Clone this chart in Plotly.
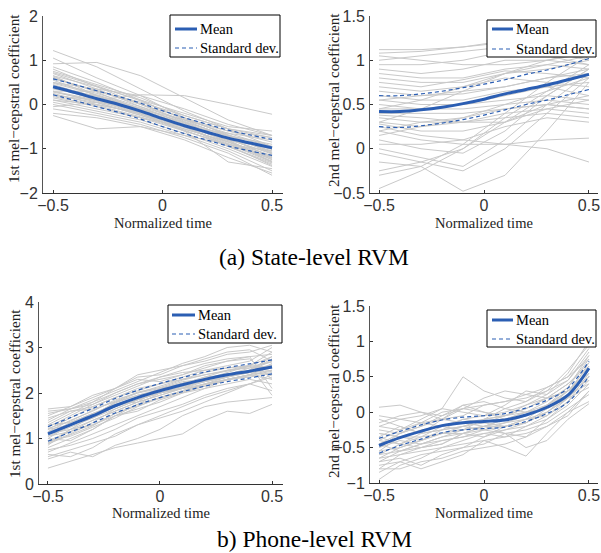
import plotly.graph_objects as go

# ---------------- data ----------------
t11 = [-0.5, -0.4, -0.3, -0.2, -0.1, 0.0, 0.1, 0.2, 0.3, 0.4, 0.5]
t6 = [-0.5, -0.3, -0.1, 0.1, 0.3, 0.5]

# Panel (a) left: 1st mel-cepstral, state level
a1_mean = [0.40, 0.27, 0.13, 0.0, -0.15, -0.32, -0.48, -0.62, -0.76, -0.87, -0.98]
a1_up = [0.58, 0.45, 0.31, 0.18, 0.03, -0.14, -0.30, -0.44, -0.58, -0.69, -0.79]
a1_lo = [0.22, 0.09, -0.05, -0.18, -0.33, -0.50, -0.66, -0.80, -0.94, -1.05, -1.15]
a1_lines = [
    [1.22, 0.85, 0.35, -0.15, -0.55, -0.95],
    [0.92, 0.95, 0.65, 0.15, -0.35, -0.70],
    [0.30, 0.10, 0.22, 0.20, 0.00, -0.22],
    [1.05, 0.60, 0.20, -0.30, -0.70, -1.10],
    [0.85, 0.50, 0.10, -0.35, -0.75, -1.20],
    [0.80, 0.40, 0.00, -0.40, -0.80, -1.30],
    [0.70, 0.35, -0.05, -0.45, -0.85, -1.25],
    [0.60, 0.30, 0.00, -0.30, -0.60, -0.85],
    [0.55, 0.20, -0.10, -0.50, -0.95, -1.35],
    [0.50, 0.25, -0.05, -0.35, -0.65, -0.95],
    [0.45, 0.15, -0.15, -0.45, -0.75, -1.05],
    [0.40, 0.10, -0.20, -0.50, -0.80, -1.10],
    [0.35, 0.20, -0.10, -0.40, -0.70, -0.90],
    [0.30, 0.05, -0.25, -0.55, -0.85, -1.15],
    [0.25, 0.00, -0.20, -0.50, -0.80, -1.00],
    [0.20, 0.10, -0.15, -0.45, -0.70, -0.95],
    [0.15, -0.05, -0.30, -0.60, -0.90, -1.20],
    [0.10, -0.10, -0.30, -0.50, -0.65, -0.80],
    [0.05, -0.15, -0.35, -0.65, -1.00, -1.40],
    [0.00, -0.20, -0.40, -0.70, -1.05, -1.50],
    [-0.10, -0.25, -0.45, -0.75, -1.10, -1.60],
    [-0.20, -0.30, -0.50, -0.80, -1.20, -1.55],
    [-0.25, -0.55, -0.50, -0.70, -0.90, -1.05],
    [0.75, 0.45, 0.15, -0.25, -0.55, -0.70],
    [0.65, 0.40, 0.10, -0.20, -0.50, -0.60],
    [0.30, 0.30, 0.05, -0.25, -0.55, -0.75],
    [-0.05, 0.05, -0.10, -0.35, -0.60, -0.75],
    [0.50, 0.35, 0.20, -0.10, -0.45, -0.70],
    [0.10, 0.00, -0.20, -0.60, -1.30, -1.45],
    [0.65, 0.20, -0.20, -0.60, -0.90, -1.30],
    [0.58, 0.32, 0.02, -0.38, -0.72, -1.02],
    [0.48, 0.22, -0.08, -0.42, -0.78, -1.12],
    [0.38, 0.12, -0.18, -0.48, -0.82, -1.22],
    [0.28, 0.08, -0.22, -0.52, -0.88, -1.28],
    [0.62, 0.28, -0.12, -0.48, -0.92, -1.38],
    [0.18, -0.02, -0.28, -0.58, -0.95, -1.32],
    [0.72, 0.42, 0.08, -0.32, -0.68, -1.08],
    [0.42, 0.18, -0.12, -0.44, -0.76, -1.18],
    [0.22, 0.04, -0.24, -0.56, -0.84, -1.24],
]

# Panel (a) right: 2nd mel-cepstral, state level
a2_mean = [0.42, 0.42, 0.44, 0.47, 0.51, 0.56, 0.62, 0.67, 0.72, 0.78, 0.84]
a2_up = [0.60, 0.60, 0.62, 0.65, 0.69, 0.73, 0.78, 0.84, 0.89, 0.95, 1.02]
a2_lo = [0.25, 0.24, 0.26, 0.29, 0.33, 0.38, 0.44, 0.50, 0.55, 0.61, 0.67]
a2_lines = [
    [1.12, 1.12, 1.15, 1.20, 1.15, 1.05],
    [1.08, 1.10, 1.15, 1.22, 1.20, 1.10],
    [1.00, 1.05, 1.10, 1.15, 1.10, 1.00],
    [0.95, 0.95, 1.00, 1.10, 1.05, 0.95],
    [0.90, 0.85, 0.90, 1.00, 1.00, 0.95],
    [0.85, 0.80, 0.80, 0.90, 0.95, 0.90],
    [0.80, 0.75, 0.75, 0.85, 0.90, 1.00],
    [0.75, 0.70, 0.78, 0.88, 0.85, 0.80],
    [0.70, 0.65, 0.70, 0.80, 0.75, 0.70],
    [0.65, 0.60, 0.62, 0.70, 0.80, 0.85],
    [0.60, 0.55, 0.55, 0.65, 0.70, 0.60],
    [0.55, 0.50, 0.50, 0.55, 0.60, 0.55],
    [0.50, 0.45, 0.50, 0.60, 0.70, 0.75],
    [0.45, 0.45, 0.45, 0.50, 0.55, 0.50],
    [0.40, 0.40, 0.40, 0.45, 0.50, 0.45],
    [0.35, 0.30, 0.35, 0.50, 0.65, 0.80],
    [0.30, 0.25, 0.30, 0.40, 0.45, 0.40],
    [0.28, 0.20, 0.20, 0.30, 0.50, 0.60],
    [0.25, 0.15, 0.10, 0.05, 0.00, -0.15],
    [0.20, 0.10, 0.05, 0.05, 0.10, 0.12],
    [0.10, 0.00, -0.05, 0.20, 0.60, 0.90],
    [0.00, -0.10, -0.20, 0.10, 0.50, 0.85],
    [-0.05, -0.15, -0.25, 0.00, 0.40, 0.80],
    [-0.15, -0.20, -0.48, -0.30, 0.20, 0.75],
    [-0.25, -0.15, 0.00, 0.30, 0.60, 0.90],
    [-0.30, -0.20, 0.05, 0.40, 0.75, 1.05],
    [-0.45, -0.25, 0.00, 0.35, 0.65, 0.95],
    [0.45, 0.55, 0.70, 0.85, 0.95, 1.05],
    [0.30, 0.45, 0.65, 0.85, 1.00, 1.10],
    [0.55, 0.60, 0.65, 0.70, 0.80, 0.90],
    [0.15, 0.25, 0.35, 0.45, 0.50, 0.45],
    [0.20, 0.30, 0.30, 0.35, 0.40, 0.35],
    [0.38, 0.35, 0.30, 0.30, 0.45, 0.55],
    [0.05, 0.05, 0.10, 0.25, 0.35, 0.30],
    [1.05, 1.00, 0.95, 0.95, 1.00, 1.08],
]

# Panel (b) left: 1st mel-cepstral, phone level
b1_mean = [1.10, 1.30, 1.50, 1.72, 1.90, 2.05, 2.18, 2.30, 2.40, 2.48, 2.57]
b1_up = [1.26, 1.46, 1.66, 1.88, 2.06, 2.21, 2.34, 2.46, 2.56, 2.64, 2.73]
b1_lo = [0.94, 1.14, 1.34, 1.56, 1.74, 1.90, 2.03, 2.15, 2.25, 2.33, 2.42]
b1_lines = [
    [0.35, 0.50, 0.65, 0.80, 0.90, 1.00, 1.10, 1.40, 1.60, 1.55, 1.75],
    [0.55, 0.70, 0.60, 0.85, 1.00, 1.20, 1.50, 1.70, 1.80, 1.85, 1.90],
    [0.60, 0.75, 0.90, 1.05, 1.30, 1.45, 1.60, 1.80, 2.00, 2.20, 2.05],
    [0.70, 0.90, 1.10, 1.30, 1.50, 1.70, 1.90, 2.10, 2.20, 2.30, 2.20],
    [0.80, 1.00, 1.20, 1.50, 1.65, 1.80, 2.00, 2.10, 2.30, 2.40, 2.50],
    [0.85, 1.20, 1.40, 1.60, 1.80, 1.95, 2.10, 2.25, 2.35, 2.45, 2.60],
    [0.90, 1.10, 1.35, 1.65, 1.85, 2.00, 2.10, 2.20, 2.35, 2.50, 2.70],
    [0.95, 1.05, 1.25, 1.45, 1.70, 1.90, 2.05, 2.20, 2.30, 2.35, 2.45],
    [1.00, 1.30, 1.45, 1.70, 1.90, 2.05, 2.20, 2.35, 2.50, 2.55, 2.70],
    [1.05, 1.15, 1.40, 1.60, 1.80, 2.10, 2.25, 2.30, 2.45, 2.60, 2.80],
    [1.10, 1.35, 1.55, 1.75, 1.90, 2.00, 2.15, 2.30, 2.40, 2.55, 2.60],
    [1.15, 1.40, 1.60, 1.85, 2.00, 2.15, 2.30, 2.45, 2.55, 2.60, 2.90],
    [1.20, 1.45, 1.70, 1.90, 2.10, 2.20, 2.35, 2.50, 2.60, 2.70, 3.00],
    [1.25, 1.50, 1.75, 2.00, 2.20, 2.30, 2.40, 2.55, 2.70, 2.80, 2.85],
    [1.30, 1.55, 1.80, 2.10, 2.35, 2.40, 2.60, 2.75, 2.90, 2.95, 2.70],
    [1.35, 1.60, 1.70, 1.90, 2.05, 2.20, 2.30, 2.40, 2.50, 2.60, 2.55],
    [1.40, 1.65, 1.85, 2.05, 2.25, 2.45, 2.65, 2.80, 3.00, 3.05, 2.90],
    [1.45, 1.60, 1.65, 1.80, 2.00, 2.10, 2.20, 2.35, 2.40, 2.45, 2.40],
    [1.50, 1.70, 1.90, 2.10, 2.30, 2.25, 2.40, 2.60, 2.70, 2.75, 2.30],
    [1.55, 1.65, 1.75, 1.95, 2.15, 2.35, 2.50, 2.65, 2.75, 2.80, 2.10],
    [1.60, 1.65, 1.80, 2.00, 2.20, 2.35, 2.45, 2.50, 2.55, 2.60, 1.95],
    [1.65, 1.70, 1.95, 2.10, 2.40, 2.50, 2.60, 2.70, 2.85, 2.90, 3.05],
    [1.00, 0.95, 1.20, 1.50, 1.60, 1.85, 2.00, 2.15, 2.30, 2.40, 2.30],
    [0.75, 0.85, 1.00, 1.20, 1.45, 1.60, 1.75, 1.95, 2.10, 2.20, 2.35],
    [0.65, 0.60, 0.80, 1.10, 1.30, 1.50, 1.70, 1.90, 2.05, 2.20, 2.40],
    [1.20, 1.30, 1.50, 1.80, 1.95, 2.05, 2.20, 2.25, 2.35, 2.45, 2.55],
    [0.90, 1.20, 1.50, 1.75, 1.80, 1.95, 2.10, 2.15, 2.30, 2.40, 2.60],
    [1.10, 1.20, 1.30, 1.55, 1.75, 1.90, 2.05, 2.20, 2.30, 2.40, 2.65],
    [1.30, 1.35, 1.55, 1.70, 1.85, 2.00, 2.10, 2.30, 2.40, 2.50, 2.75],
    [0.95, 1.15, 1.30, 1.50, 1.75, 2.00, 2.15, 2.25, 2.35, 2.50, 2.80],
    [1.05, 1.25, 1.45, 1.65, 1.85, 2.00, 2.12, 2.28, 2.38, 2.45, 2.50],
    [1.15, 1.30, 1.52, 1.78, 1.95, 2.08, 2.22, 2.32, 2.42, 2.50, 2.62],
    [0.88, 1.08, 1.28, 1.55, 1.72, 1.88, 2.02, 2.18, 2.28, 2.38, 2.48],
    [1.22, 1.38, 1.62, 1.82, 2.02, 2.12, 2.28, 2.40, 2.48, 2.58, 2.68],
]

# Panel (b) right: 2nd mel-cepstral, phone level
b2_mean = [-0.47, -0.36, -0.27, -0.19, -0.15, -0.13, -0.11, -0.04, 0.07, 0.24, 0.62]
b2_up = [-0.37, -0.27, -0.18, -0.11, -0.07, -0.05, -0.02, 0.06, 0.17, 0.34, 0.72]
b2_lo = [-0.58, -0.47, -0.38, -0.29, -0.25, -0.23, -0.21, -0.13, -0.02, 0.14, 0.51]
b2_lines = [
    [0.07, 0.10, 0.00, -0.10, 0.05, 0.00, -0.05, 0.10, 0.20, 0.40, 0.70],
    [-0.05, -0.10, -0.05, 0.05, 0.50, 0.30, 0.20, 0.15, 0.35, 0.50, 0.90],
    [-0.10, -0.20, -0.30, -0.10, -0.05, 0.10, 0.15, 0.20, 0.30, 0.45, 0.80],
    [-0.20, -0.10, -0.15, -0.20, -0.10, -0.05, 0.00, 0.10, 0.25, 0.55, 1.00],
    [-0.25, -0.30, -0.20, -0.05, 0.10, 0.00, -0.10, 0.00, 0.10, 0.30, 0.60],
    [-0.30, -0.35, -0.25, -0.20, -0.15, -0.10, -0.05, 0.05, 0.20, 0.30, 0.45],
    [-0.35, -0.20, -0.30, -0.25, -0.20, -0.10, 0.05, 0.00, 0.05, 0.20, 0.35],
    [-0.40, -0.45, -0.35, -0.30, -0.20, -0.15, -0.20, -0.10, 0.00, 0.20, 0.50],
    [-0.45, -0.30, -0.20, -0.10, -0.15, -0.20, -0.10, -0.05, 0.10, 0.30, 0.65],
    [-0.50, -0.40, -0.45, -0.35, -0.25, -0.20, -0.15, -0.10, -0.05, 0.15, 0.55],
    [-0.55, -0.50, -0.40, -0.30, -0.30, -0.35, -0.25, -0.15, 0.00, 0.25, 0.70],
    [-0.60, -0.55, -0.50, -0.40, -0.35, -0.30, -0.35, -0.20, -0.10, 0.10, 0.40],
    [-0.65, -0.60, -0.55, -0.50, -0.45, -0.40, -0.50, -0.62, -0.30, 0.00, 0.30],
    [-0.70, -0.65, -0.75, -0.60, -0.50, -0.45, -0.30, -0.25, -0.15, 0.05, 0.25],
    [-0.75, -0.70, -0.80, -0.70, -0.60, -0.40, -0.35, -0.30, -0.20, 0.00, 0.15],
    [-0.80, -0.60, -0.50, -0.45, -0.30, -0.25, -0.30, -0.50, -0.40, -0.10, 0.12],
    [-0.85, -0.70, -0.60, -0.55, -0.50, -0.35, -0.20, -0.15, 0.05, 0.30, 0.55],
    [-0.95, -0.75, -0.65, -0.50, -0.40, -0.30, -0.25, -0.20, -0.05, 0.20, 0.60],
    [-0.50, -0.30, -0.15, 0.00, 0.05, 0.10, 0.15, 0.25, 0.35, 0.50, 0.75],
    [-0.40, -0.25, -0.10, 0.05, 0.00, -0.05, 0.10, 0.30, 0.25, 0.45, 0.85],
    [-0.30, -0.35, -0.40, -0.30, -0.25, -0.20, -0.10, 0.00, 0.15, 0.35, 0.80],
    [-0.60, -0.45, -0.30, -0.25, -0.20, -0.25, -0.15, -0.05, 0.10, 0.35, 0.75],
    [-0.70, -0.55, -0.45, -0.35, -0.30, -0.20, -0.20, -0.15, 0.00, 0.20, 0.50],
    [-0.20, -0.25, -0.15, -0.10, 0.10, 0.15, 0.05, 0.15, 0.30, 0.60, 0.95],
    [-0.45, -0.55, -0.45, -0.40, -0.35, -0.25, -0.20, -0.10, 0.10, 0.25, 0.40],
    [-0.55, -0.35, -0.35, -0.20, -0.25, -0.10, -0.05, 0.05, 0.20, 0.40, 0.65],
    [-0.15, -0.05, 0.00, -0.05, 0.05, 0.20, 0.30, 0.25, 0.20, 0.30, 0.50],
    [-0.80, -0.80, -0.70, -0.65, -0.55, -0.50, -0.45, -0.35, -0.20, -0.05, 0.30],
    [-0.35, -0.45, -0.50, -0.45, -0.30, -0.20, -0.30, -0.35, -0.10, 0.15, 0.45],
    [-0.65, -0.50, -0.40, -0.25, -0.10, -0.15, -0.05, 0.00, 0.05, 0.25, 0.60],
]

x_ticks = [-0.5, 0, 0.5]
x_ticktext = ["\u22120.5", "0", "0.5"]

panels = [
    dict(lines=a1_lines, lt=t6, mean=a1_mean, up=a1_up, lo=a1_lo,
         yr=[-2, 2], yt=[-2, -1, 0, 1, 2], ylab="1st mel\u2212cepstral coefficient"),
    dict(lines=a2_lines, lt=t6, mean=a2_mean, up=a2_up, lo=a2_lo,
         yr=[-0.5, 1.5], yt=[-0.5, 0, 0.5, 1, 1.5], ylab="2nd mel\u2212cepstral coefficient"),
    dict(lines=b1_lines, lt=t11, mean=b1_mean, up=b1_up, lo=b1_lo,
         yr=[0, 4], yt=[0, 1, 2, 3, 4], ylab="1st mel\u2212cepstral coefficient"),
    dict(lines=b2_lines, lt=t11, mean=b2_mean, up=b2_up, lo=b2_lo,
         yr=[-1, 1.5], yt=[-1, -0.5, 0, 0.5, 1, 1.5], ylab="2nd mel\u2212cepstral coefficient"),
]

# ---------------- layout geometry (pixels) ----------------
W, H = 601, 553
# (left, right, top, bottom, xrange)
geom = [
    (43, 283, 16, 193, [-0.546, 0.55]),
    (370, 598, 16, 193, [-0.543, 0.543]),
    (39, 283, 302, 484, [-0.540, 0.549]),
    (370, 598, 306, 483, [-0.543, 0.543]),
]
legend_geom = [  # box l, r, t, b ; mean y, std y ; line x0, x1
    (170, 280, 15, 57, 29, 48, 175, 197),
    (487, 596, 20, 57, 29, 49, 492, 513),
    (168, 282, 305, 343, 315, 334, 172, 195),
    (487, 596, 310, 347, 320, 339, 492, 513),
]
xtitle_y = [223, 223, 513, 513]
ytitle_pos = [(14, 99), (333, 100), (14, 394), (333, 391)]

def px(x):
    return x / W

def py(y):
    return 1 - y / H

GRAY = "#c9c9c9"
BLUE = "#2b5eb3"
SERIF = "Liberation Serif, Times New Roman, serif"
SANS = "Liberation Sans, Arial, sans-serif"

def note(x, y, text, size, color="black", xanchor="center", angle=0):
    return dict(x=px(x), y=py(y), xref="paper", yref="paper", text=text, showarrow=False,
                xanchor=xanchor, yanchor="middle", textangle=angle,
                font=dict(family=SERIF, size=size, color=color))

fig = go.Figure()
layout = dict(
    width=W, height=H, autosize=False,
    margin=dict(l=0, r=0, t=0, b=0, pad=0, autoexpand=False),
    paper_bgcolor="white", plot_bgcolor="white", showlegend=False,
)
shapes = []
annotations = []

for i, (p, g) in enumerate(zip(panels, geom)):
    k = "" if i == 0 else str(i + 1)
    xa, ya = "x" + k, "y" + k
    l, r, t, b, xr = g
    for ln in p["lines"]:
        fig.add_trace(go.Scatter(x=p["lt"], y=ln, mode="lines", xaxis=xa, yaxis=ya,
                                 line=dict(color=GRAY, width=1), hoverinfo="skip"))
    for s in (p["up"], p["lo"]):
        fig.add_trace(go.Scatter(x=t11, y=s, mode="lines", xaxis=xa, yaxis=ya,
                                 line=dict(color=BLUE, width=1.2, dash="4px,3px", shape="spline")))
    fig.add_trace(go.Scatter(x=t11, y=p["mean"], mode="lines", xaxis=xa, yaxis=ya,
                             line=dict(color=BLUE, width=3, shape="spline")))
    layout["xaxis" + k] = dict(
        domain=[px(l), px(r)], range=xr, anchor=ya, tickvals=x_ticks, ticktext=x_ticktext,
        ticks="inside", ticklen=3, tickcolor="#333", showline=True, linecolor="#333",
        linewidth=1, showgrid=False, zeroline=False, automargin=False, ticklabelstandoff=-2,
        tickfont=dict(family=SANS, size=16, color="#333"),
    )
    layout["yaxis" + k] = dict(
        domain=[py(b), py(t)], range=p["yr"], anchor=xa, tickvals=p["yt"],
        ticks="inside", ticklen=3, tickcolor="#333", showline=True, linecolor="#555",
        linewidth=1, showgrid=False, zeroline=False, ticklabelstandoff=1, automargin=False,
        tickfont=dict(family=SANS, size=16, color="#333"),
    )
    # axis titles
    annotations.append(note((l + r) / 2, xtitle_y[i], "Normalized time", 14.5, "#222"))
    yx, yy = ytitle_pos[i]
    annotations.append(note(yx, yy, p["ylab"], 15.2, "#222", angle=-90))
    # legend
    bl, br, bt, bb, my, sy, lx0, lx1 = legend_geom[i]
    shapes.append(dict(type="rect", xref="paper", yref="paper", x0=px(bl), x1=px(br),
                       y0=py(bb), y1=py(bt), line=dict(color="black", width=1),
                       fillcolor="white", layer="above"))
    shapes.append(dict(type="line", xref="paper", yref="paper", x0=px(lx0), x1=px(lx1),
                       y0=py(my), y1=py(my), line=dict(color=BLUE, width=3), layer="above"))
    shapes.append(dict(type="line", xref="paper", yref="paper", x0=px(lx0), x1=px(lx1),
                       y0=py(sy), y1=py(sy), line=dict(color=BLUE, width=1.2, dash="4px,3px"),
                       layer="above"))
    annotations.append(note(lx1 + 1, my, "Mean", 14.5, xanchor="left"))
    annotations.append(note(lx1 + 1, sy, "Standard dev.", 14.5, xanchor="left"))

annotations.append(note(W / 2 + 13, 257, "(a) State-level RVM", 23.5))
annotations.append(note(W / 2 + 14, 539, "b) Phone-level RVM", 23.5))

layout["shapes"] = shapes
layout["annotations"] = annotations
fig.update_layout(**layout)
fig.write_html("out.html", config={"displayModeBar": False, "staticPlot": True},
               post_script="document.body.style.margin='0';document.body.style.overflow='hidden';")
